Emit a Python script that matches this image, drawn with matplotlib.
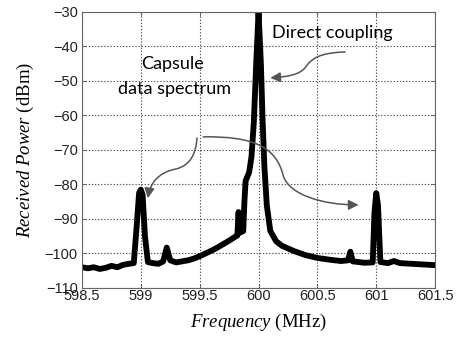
import matplotlib
matplotlib.use("Agg")
import matplotlib.pyplot as plt
from matplotlib.patches import FancyArrowPatch
from matplotlib.path import Path

# spectrum trace (MHz, dBm)
freq = [598.50, 598.55, 598.60, 598.65, 598.70, 598.75, 598.80, 598.85, 598.90, 598.94,
        598.965, 598.985, 599.00, 599.015, 599.035, 599.06, 599.10, 599.15, 599.19, 599.22,
        599.25, 599.30, 599.35, 599.40, 599.45, 599.50, 599.55, 599.60, 599.65, 599.70,
        599.75, 599.80, 599.82, 599.83, 599.84, 599.87, 599.88, 599.89, 599.92, 599.94,
        599.96, 599.98, 600.00, 600.02, 600.035, 600.05, 600.07, 600.10, 600.15, 600.20,
        600.30, 600.40, 600.50, 600.60, 600.70, 600.76, 600.78, 600.80, 600.90, 600.97,
        600.985, 601.00, 601.015, 601.035, 601.10, 601.15, 601.20, 601.30, 601.40, 601.50]
power = [-104.0, -104.3, -104.0, -104.5, -104.2, -103.6, -104.0, -103.3, -103.0, -102.8,
         -92.0, -82.5, -81.5, -83.0, -95.0, -102.5, -102.8, -103.0, -102.3, -98.3,
         -102.0, -102.6, -102.3, -102.0, -101.5, -100.8, -100.0, -99.2, -98.3, -97.3,
         -96.3, -95.2, -94.8, -88.0, -94.0, -93.5, -85.0, -79.0, -76.5, -72.0,
         -62.0, -45.0, -30.0, -45.0, -62.0, -75.0, -86.0, -93.5, -96.5, -97.8,
         -99.3, -100.5, -101.3, -101.8, -102.2, -102.0, -99.5, -102.3, -102.7, -102.6,
         -88.0, -82.5, -86.0, -102.5, -102.8, -102.2, -102.8, -103.0, -103.2, -103.4]

xticks = [598.5, 599, 599.5, 600, 600.5, 601, 601.5]
xticklabels = ["598.5", "599", "599.5", "600", "600.5", "601", "601.5"]
yticks = [-30, -40, -50, -60, -70, -80, -90, -100, -110]

plt.rcParams["mathtext.fontset"] = "custom"
plt.rcParams["mathtext.rm"] = "Liberation Serif"
plt.rcParams["mathtext.it"] = "Liberation Serif:italic"

fig = plt.figure(figsize=(4.58, 3.52), dpi=100)
ax = fig.add_axes([0.179, 0.182, 0.771, 0.784])

ax.plot(freq, power, color="black", lw=4.2, solid_joinstyle="round", solid_capstyle="round")

ax.set_xlim(598.5, 601.5)
ax.set_ylim(-110, -30)
ax.set_xticks(xticks)
ax.set_xticklabels(xticklabels)
ax.set_yticks(yticks)
for lab in ax.get_xticklabels() + ax.get_yticklabels():
    lab.set_family("Liberation Sans")
    lab.set_fontsize(10.5)
    lab.set_color("#222222")
ax.tick_params(direction="in", length=3, width=0.6, color="#555555",
               top=True, right=True, pad=1)
ax.tick_params(axis="y", pad=3)
ax.grid(True, ls=(0, (1.2, 1.6)), color="#555555", lw=0.8)
for s in ax.spines.values():
    s.set_color("#666666")
    s.set_linewidth(0.8)

ax.set_xlabel(r"$\mathit{Frequency}$ (MHz)", family="Liberation Serif", fontsize=13.5, labelpad=6)
ax.set_ylabel(r"$\mathit{Received\ Power}$ (dBm)", family="Liberation Serif", fontsize=13.5, labelpad=6)

# annotations
tfont = dict(family="Lato", fontsize=13, color="black", ha="center", va="center")
ax.text(600.63, -36.1, "Direct coupling", **tfont)
ax.text(599.27, -45.2, "Capsule", **tfont)
ax.text(599.29, -52.4, "data spectrum", **tfont)

def curved_arrow(pts):
    codes = [Path.MOVETO] + [Path.CURVE4] * (len(pts) - 1)
    p = FancyArrowPatch(path=Path(pts, codes), arrowstyle="-|>,head_length=6,head_width=3",
                        color="#555555", lw=1.1, zorder=5)
    ax.add_patch(p)
    return p

curved_arrow([(600.735, -41.6), (600.52, -41.8), (600.45, -43.5), (600.40, -46.0),
              (600.35, -48.2), (600.25, -48.8), (600.10, -49.1)])
curved_arrow([(599.477, -66.5), (599.47, -71.0), (599.42, -74.5), (599.30, -75.5),
              (599.15, -76.5), (599.08, -79.5), (599.06, -84.0)])
curved_arrow([(599.53, -66.2), (599.95, -66.0), (600.15, -69.0), (600.21, -77.5),
              (600.26, -83.0), (600.55, -86.0), (600.85, -85.9)])

fig.savefig("out.png", dpi=100)
